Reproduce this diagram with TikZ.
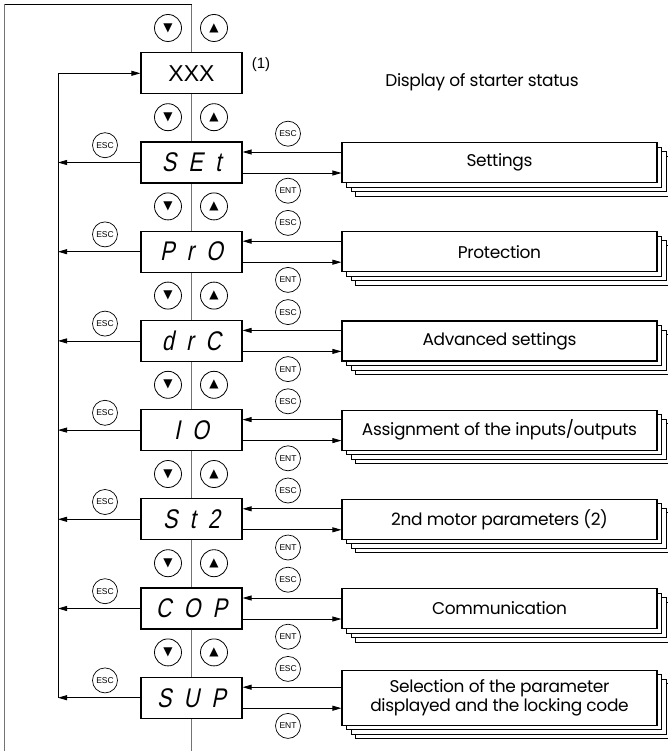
\documentclass[tikz,border=0pt]{standalone}
\usepackage{fontspec}
\usepackage{tikz}
\usetikzlibrary{arrows.meta}
\usetikzlibrary{shadows}
\newfontfamily\labelfont[LetterSpace=-2]{Poppins}
\newfontfamily\keyfont{Liberation Sans}
\newfontfamily\segfont[FakeSlant=0.2, FakeStretch=0.8, LetterSpace=45]{Liberation Sans}
\newfontfamily\btnfont{DejaVu Sans}

\begin{document}
\begin{tikzpicture}[
  x=1pt, y=-1pt,
  display/.style={draw, line width=1.2pt, fill=white, minimum width=101pt, minimum height=41pt, inner sep=0pt},
  menu/.style={draw, line width=1.2pt, fill=white, minimum width=315pt, minimum height=40pt, align=center,
    font=\labelfont\fontsize{17}{19}\selectfont,
    copy shadow={shadow xshift=13.5pt, shadow yshift=-13.5pt},
    copy shadow={shadow xshift=9pt, shadow yshift=-9pt},
    copy shadow={shadow xshift=4.5pt, shadow yshift=-4.5pt}},
  key/.style={circle, draw, line width=0.7pt, minimum size=25pt, inner sep=0pt, font=\keyfont\fontsize{8.5}{8.5}\selectfont},
  button/.style={circle, draw, line width=0.8pt, minimum size=27pt, inner sep=0pt, font=\btnfont\fontsize{12}{12}\selectfont},
  link/.style={draw=black!55, line width=0.8pt},
  every path/.style={line width=0.8pt},
]
\tikzset{>={Triangle[length=9pt, width=5pt]}}
\useasboundingbox (0,0) rectangle (668,751);

% outer loop and main line
\coordinate (T) at (191.5,4);
\coordinate (B) at (191.5,751);
\coordinate (TL) at (4,4);
\coordinate (BL) at (4,751);
\draw[link] (B) -- (T);
\draw (T) -- (TL);
\draw[link] (TL) -- (BL);

\node[display] (XXX) at (191.5,73.3) {\keyfont\fontsize{23}{23}\selectfont XXX};
\node (note) at (261,65) {\keyfont\fontsize{15}{15}\selectfont (1)};
\node (status) at (482,82) {\labelfont\fontsize{17}{19}\selectfont Display of starter status};
\coordinate (L0) at (58,73.3);

\foreach \k in {0,...,7} {
  \node[button] (dn\k) at (168, 28+89.2*\k) {▼};
  \node[button] (up\k) at (214, 28+89.2*\k) {▲};
}

\foreach \n/\k/\h/\seg/\txt in {SET/1/40/SEt/Settings,
    PRO/2/40/PrO/Protection,
    DRC/3/40/drC/Advanced settings,
    IO/4/40/IO/{Assignment of the inputs/outputs},
    STT/5/40/St2/2nd motor parameters (2),
    COP/6/40/COP/Communication,
    SUP/7/55/SUP/{Selection of the parameter\\displayed and the locking code}} {
  \node[display] (\n) at (191.5, 73.3+89.2*\k) {\segfont\fontsize{27}{27}\selectfont \seg};
  \node[menu, minimum height=\h pt] (m\n) at (499.5, 73.3+89.2*\k) {\txt};
  \node[key] (esc\n) at (105, 56+89.2*\k) {ESC};
  \node[key] (back\n) at (288, 44.5+89.2*\k) {ESC};
  \node[key] (ent\n) at (288, 101.5+89.2*\k) {ENT};
  \coordinate (L\n) at (58, 73.3+89.2*\k);
  \draw[->] (\n.west) -- (L\n);
  \draw[->] ([yshift=10.5pt]m\n.west) -- ([yshift=10.5pt]\n.east);
  \draw[->] ([yshift=-10.5pt]\n.east) -- ([yshift=-10.5pt]m\n.west);
}

\draw[->] (LSUP) -- (L0) -- (XXX.west);
\end{tikzpicture}
\end{document}
